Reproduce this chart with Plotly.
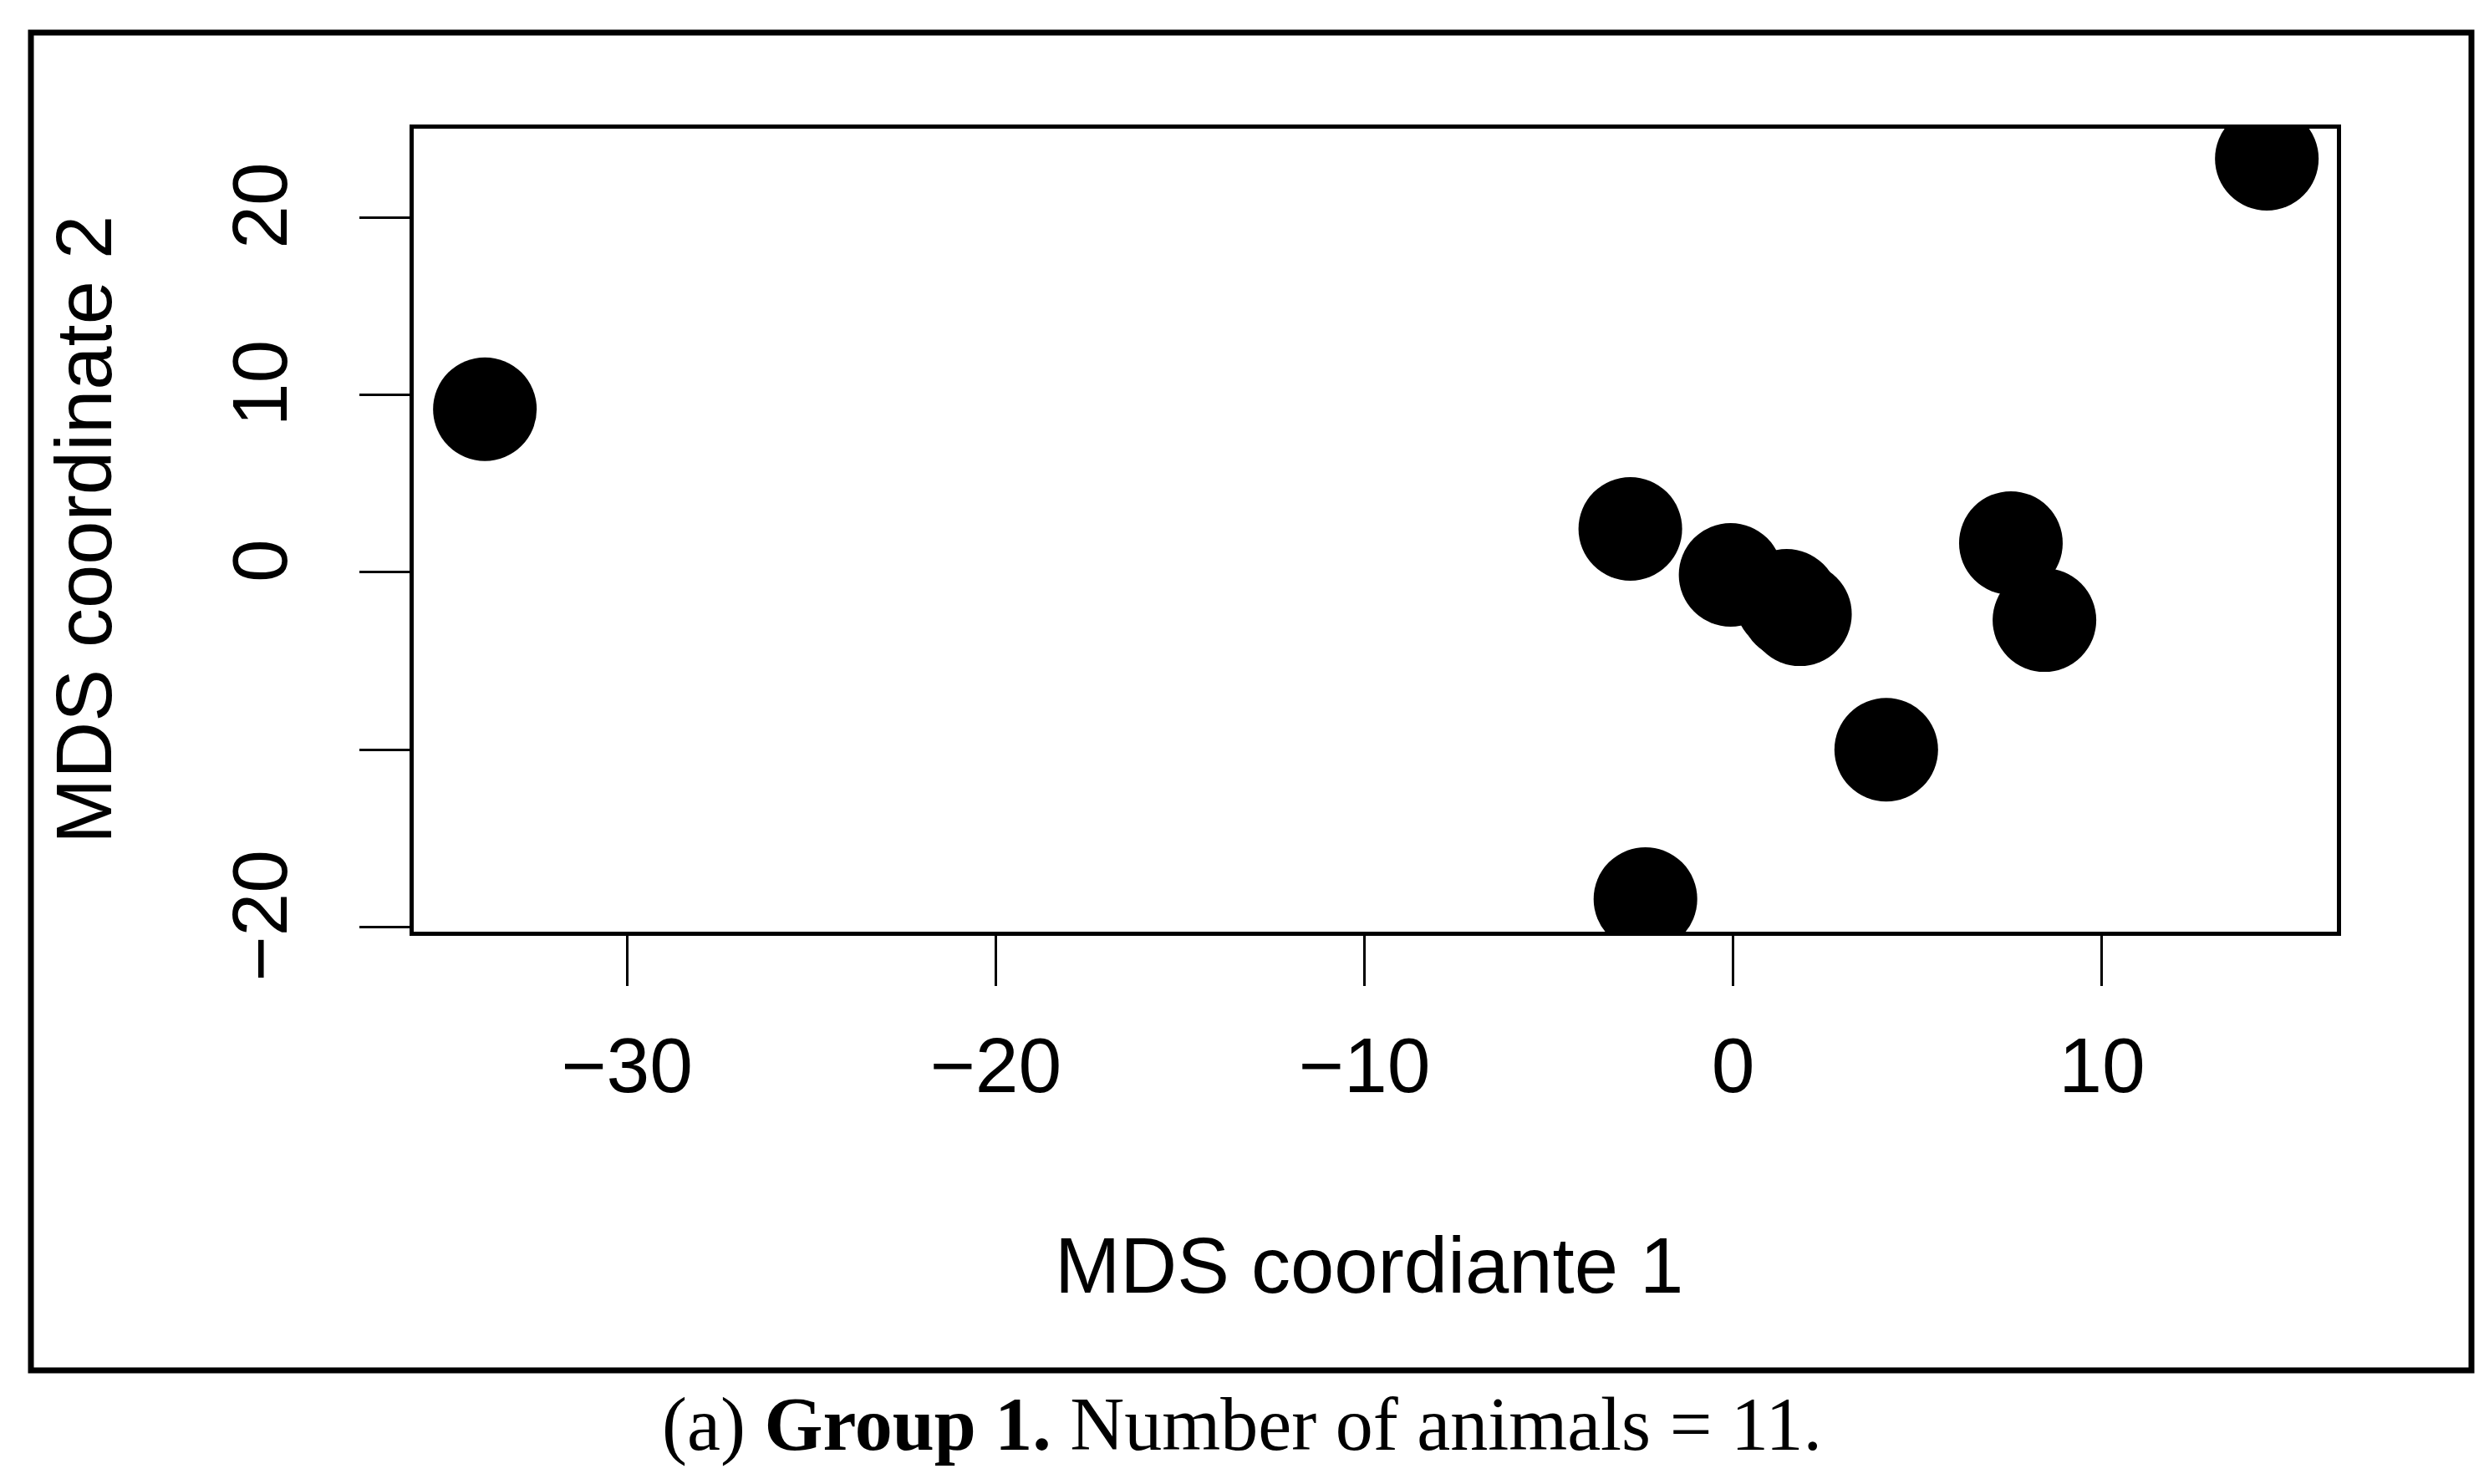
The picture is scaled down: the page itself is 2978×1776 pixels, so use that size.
import plotly.graph_objects as go

# ---- data ----
mds1 = [-33.85, 14.47, -2.79, -0.07, 1.45, 1.81, 7.53, 8.44, 4.15, -2.38, 1.6]
mds2 = [9.19, 23.3, 2.45, -0.14, -1.6, -2.36, 1.65, -2.69, -9.99, -18.4, -2.0]
x_ticks = [-30, -20, -10, 0, 10]
x_tick_labels = ["\u221230", "\u221220", "\u221210", "0", "10"]
y_ticks = [-20, -10, 0, 10, 20]
y_tick_labels = ["\u221220", "", "0", "10", "20"]
x_title = "MDS coordiante 1"
y_title = "MDS coordinate 2"
caption = "(a) <b>Group 1.</b> Number of animals = 11."

W, H = 2978, 1776
L, R, T, B = 487, 2788, 146, 1107

def px(x):
    return (x - L) / (R - L)

def py(y):
    return (B - y) / (B - T)

fig = go.Figure()
fig.add_trace(go.Scatter(
    x=mds1, y=mds2, mode="markers",
    marker=dict(size=124, color="black", line=dict(width=0)),
    cliponaxis=True, showlegend=False, hoverinfo="x+y",
))

tick_font = dict(family="Liberation Sans, Arial, sans-serif", size=93, color="black")
title_font = dict(family="Liberation Sans, Arial, sans-serif", size=94, color="black")

fig.update_layout(
    width=W, height=H,
    margin=dict(l=L, r=W - R, t=T, b=H - B, pad=0),
    paper_bgcolor="white", plot_bgcolor="white",
    xaxis=dict(
        range=[-35.78, 16.37], tickmode="array", tickvals=x_ticks, ticktext=x_tick_labels,
        showgrid=False, zeroline=False, showline=True, mirror=True,
        linecolor="black", linewidth=5, ticks="outside", ticklen=60, tickwidth=3,
        tickcolor="black", tickfont=tick_font, ticklabelstandoff=15,
    ),
    yaxis=dict(
        range=[-20.24, 24.99], tickmode="array", tickvals=y_ticks, ticktext=y_tick_labels,
        showgrid=False, zeroline=False, showline=True, mirror=True,
        linecolor="black", linewidth=5, ticks="outside", ticklen=60, tickwidth=3,
        tickcolor="black", tickfont=tick_font, tickangle=-90, ticklabelstandoff=50,
    ),
    shapes=[dict(
        type="rect", xref="paper", yref="paper",
        x0=px(29), x1=px(2949), y0=py(1632), y1=py(31),
        line=dict(color="black", width=7), fillcolor="rgba(0,0,0,0)", layer="above",
    )],
    annotations=[
        dict(text=x_title, xref="paper", yref="paper", x=px(1630), y=py(1506),
             xanchor="center", yanchor="middle", showarrow=False, font=title_font),
        dict(text=y_title, xref="paper", yref="paper", x=px(92), y=py(626),
             xanchor="center", yanchor="middle", showarrow=False, textangle=-90, font=title_font),
        dict(text=caption, xref="paper", yref="paper", x=px(1478), y=py(1697),
             xanchor="center", yanchor="middle", showarrow=False,
             font=dict(family="Liberation Serif, Times New Roman, serif", size=90, color="black")),
    ],
)

fig.write_html("out.html")
